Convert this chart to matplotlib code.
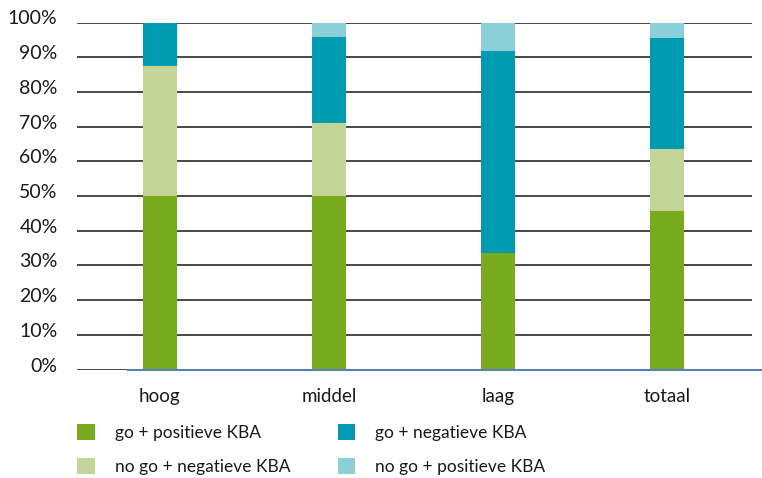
import matplotlib
matplotlib.use("Agg")
import matplotlib.pyplot as plt
import matplotlib.transforms as mtransforms
from matplotlib.patches import Patch

categories = ["hoog", "middel", "laag", "totaal"]
go_pos = [50.0, 50.0, 33.7, 45.7]
nogo_neg = [37.5, 21.0, 0.0, 17.8]
go_neg = [12.5, 24.8, 58.1, 31.9]
nogo_pos = [0.0, 4.2, 8.2, 4.6]
series_names = ["go + positieve KBA", "no go + negatieve KBA",
                "go + negatieve KBA", "no go + positieve KBA"]
yticks = [0, 10, 20, 30, 40, 50, 60, 70, 80, 90, 100]
ytick_labels = [f"{v}%" for v in yticks]

colors = ["#78AC1E", "#C3D597", "#009BB3", "#8BCFD8"]

plt.rcParams['font.family'] = ['Lato', 'DejaVu Sans']
fig = plt.figure(figsize=(7.62, 4.78), dpi=100)
ax = fig.add_axes([77/762, 1-369.5/478, (752-77)/762, (369.5-22.5)/478])

x = list(range(len(categories)))
width = 0.2
bottom = [0.0]*len(categories)
series = [go_pos, nogo_neg, go_neg, nogo_pos]
for vals, c in zip(series, colors):
    ax.bar(x, vals, width=width, bottom=bottom, color=c, zorder=3, linewidth=0)
    bottom = [b+v for b, v in zip(bottom, vals)]

ax.set_ylim(0, 100)
ax.set_xlim(-0.49, 3.5)
ax.set_yticks(yticks)
ax.set_yticklabels(ytick_labels)
ax.set_xticks(x)
ax.set_xticklabels(categories)
for v in yticks:
    ax.axhline(v, color="#3a3a3a", lw=1.3, zorder=1)
ax.axhline(0, xmin=(128-77)/675, xmax=1.02, color="#5b7fb5", lw=1.5, zorder=4, clip_on=False)

for s in ax.spines.values():
    s.set_visible(False)
ax.tick_params(axis='both', length=0, colors="#1a1a1a")
ax.tick_params(axis='y', pad=14, labelsize=14)
ax.tick_params(axis='x', pad=13, labelsize=13.5)
off = mtransforms.ScaledTranslation(0, 5/100, fig.dpi_scale_trans)
for lab in ax.get_yticklabels():
    lab.set_transform(lab.get_transform() + off)

handles = [Patch(facecolor=c, edgecolor='none') for c in colors]
leg = fig.legend(handles, series_names,
                 ncol=2, loc='upper left', bbox_to_anchor=(72/762, 1-419/478),
                 frameon=False, fontsize=12.5, handlelength=1.0, handleheight=1.0,
                 handletextpad=1.15, columnspacing=2.75, labelspacing=1.0,
                 borderaxespad=0, borderpad=0.3)
for t in leg.get_texts():
    t.set_color("#1a1a1a")

fig.savefig("out.png", dpi=100)
